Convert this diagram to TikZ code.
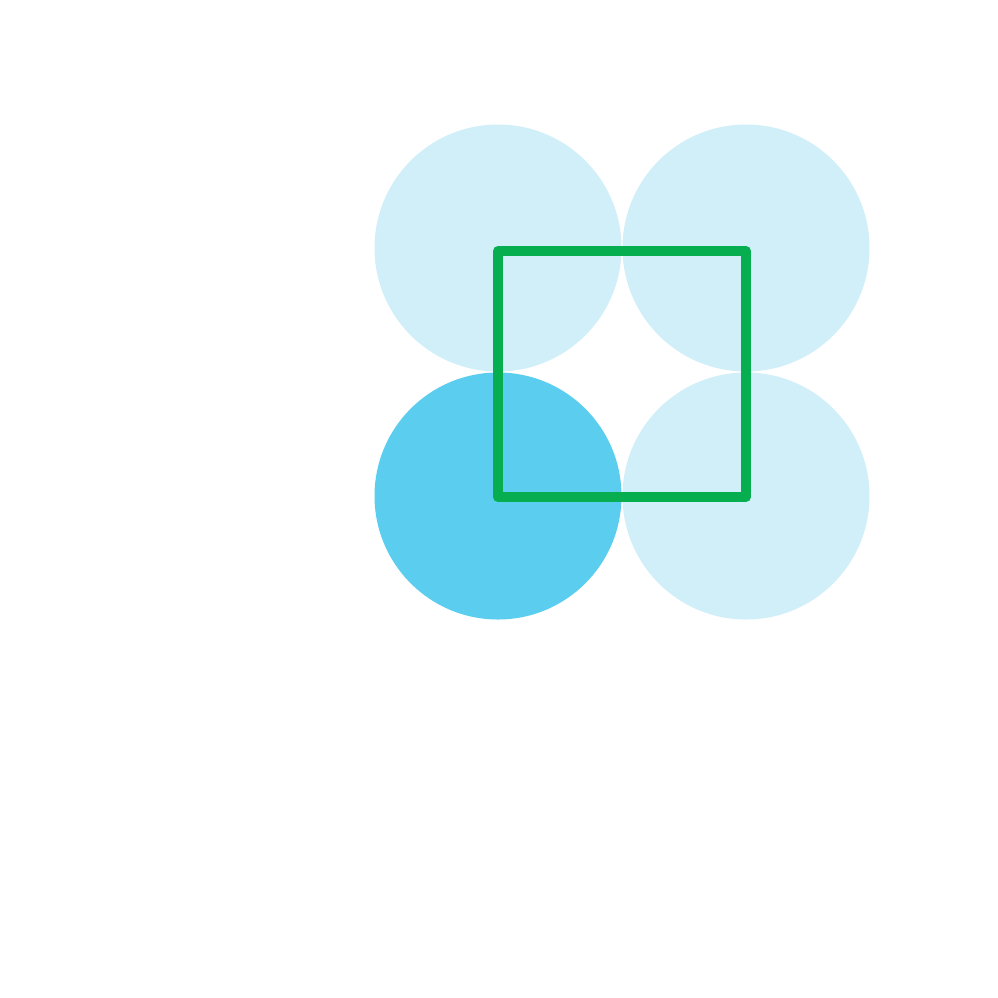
\documentclass[tikz,border=0pt]{standalone}
\definecolor{lightc}{HTML}{D0EFF9}
\definecolor{darkc}{HTML}{5BCEF0}
\definecolor{greenc}{HTML}{06AE4F}
\tikzset{
  lightdisc/.style={fill=lightc, draw=none},
  darkdisc/.style={fill=darkc, draw=none},
  greensq/.style={draw=greenc, line width=10pt, line join=round}
}
\begin{document}
\begin{tikzpicture}[x=1pt,y=-1pt]
\fill[white] (0,0) rectangle (998,997);
\useasboundingbox (0,0) rectangle (998,997);
\fill[lightdisc] (498,248) circle (123.5);
\fill[lightdisc] (746,248) circle (123.5);
\fill[lightdisc] (746,496) circle (123.5);
\fill[darkdisc] (498,496) circle (123.5);
\draw[greensq] (498,251) rectangle (746,497);
\end{tikzpicture}
\end{document}
